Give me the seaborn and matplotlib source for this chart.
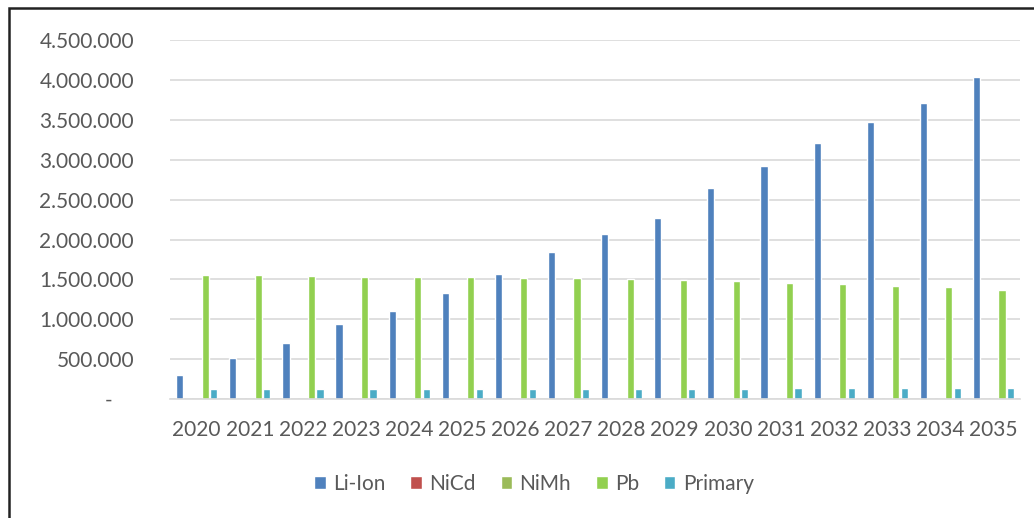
import matplotlib
matplotlib.use("Agg")
import matplotlib.pyplot as plt
import matplotlib.ticker as mticker
from matplotlib.patches import Rectangle
import seaborn as sns
import pandas as pd

years = [str(y) for y in range(2020, 2036)]
series_names = ["Li-Ion", "NiCd", "NiMh", "Pb", "Primary"]
li_ion = [295000, 510000, 695000, 935000, 1100000, 1325000, 1565000, 1845000,
          2065000, 2265000, 2650000, 2920000, 3210000, 3470000, 3710000, 4035000]
nicd = [0] * 16
nimh = [0] * 16
pb = [1555000, 1553000, 1538000, 1536000, 1534000, 1530000, 1523000, 1517000,
      1505000, 1492000, 1474000, 1459000, 1444000, 1420000, 1400000, 1370000]
primary = [122000, 122000, 123000, 123000, 124000, 125000, 126000, 127000,
           128000, 129000, 130000, 131000, 132000, 133000, 134000, 135000]
colors = ["#4F81BD", "#C0504D", "#9BBB59", "#92D050", "#4BACC6"]

rows = []
for name, vals in zip(series_names, [li_ion, nicd, nimh, pb, primary]):
    for y, v in zip(years, vals):
        rows.append({"year": y, "value": v, "series": name})
df = pd.DataFrame(rows)

sns.set_style("white")
plt.rcParams["font.family"] = ["Lato", "DejaVu Sans"]

fig = plt.figure(figsize=(10.34, 5.18), dpi=100)
ax = fig.add_axes([0.1645, 0.23, 0.822, 0.692])

sns.barplot(data=df, x="year", y="value", hue="series", hue_order=series_names,
            palette=colors, width=0.8, gap=0.15, ax=ax, saturation=1,
            errorbar=None, legend=True)

ax.set_ylim(0, 4500000)
ax.set_xlim(-0.5, 15.5)
ax.yaxis.set_major_locator(mticker.MultipleLocator(500000))

def fmt(v, pos):
    if v == 0:
        return "-    "
    return f"{int(v):,}".replace(",", ".")
ax.yaxis.set_major_formatter(mticker.FuncFormatter(fmt))

ax.grid(axis="y", color="#D9D9D9", linewidth=1.2)
ax.set_axisbelow(True)
for s in ["top", "right", "left"]:
    ax.spines[s].set_visible(False)
ax.spines["bottom"].set_color("#D9D9D9")
ax.spines["bottom"].set_linewidth(1.2)
ax.tick_params(axis="both", length=0, labelsize=15, colors="#595959")
ax.tick_params(axis="y", pad=26)
ax.tick_params(axis="x", pad=15)
ax.set_xlabel("")
ax.set_ylabel("")

handles, labels = ax.get_legend_handles_labels()
ax.get_legend().remove()
fig.legend(handles, labels, loc="center", bbox_to_anchor=(534 / 1034, 1 - 484 / 518),
           ncol=5, frameon=False, fontsize=15, handlelength=0.55, handleheight=0.55,
           columnspacing=1.2, handletextpad=0.35, labelcolor="#595959")

fig.patches.append(Rectangle((8.5 / 1034, -0.1), 1.2, 1.1 - 8.5 / 518,
                             transform=fig.transFigure, fill=False,
                             edgecolor="#222222", linewidth=1.8))

fig.savefig("out.png", dpi=100)
